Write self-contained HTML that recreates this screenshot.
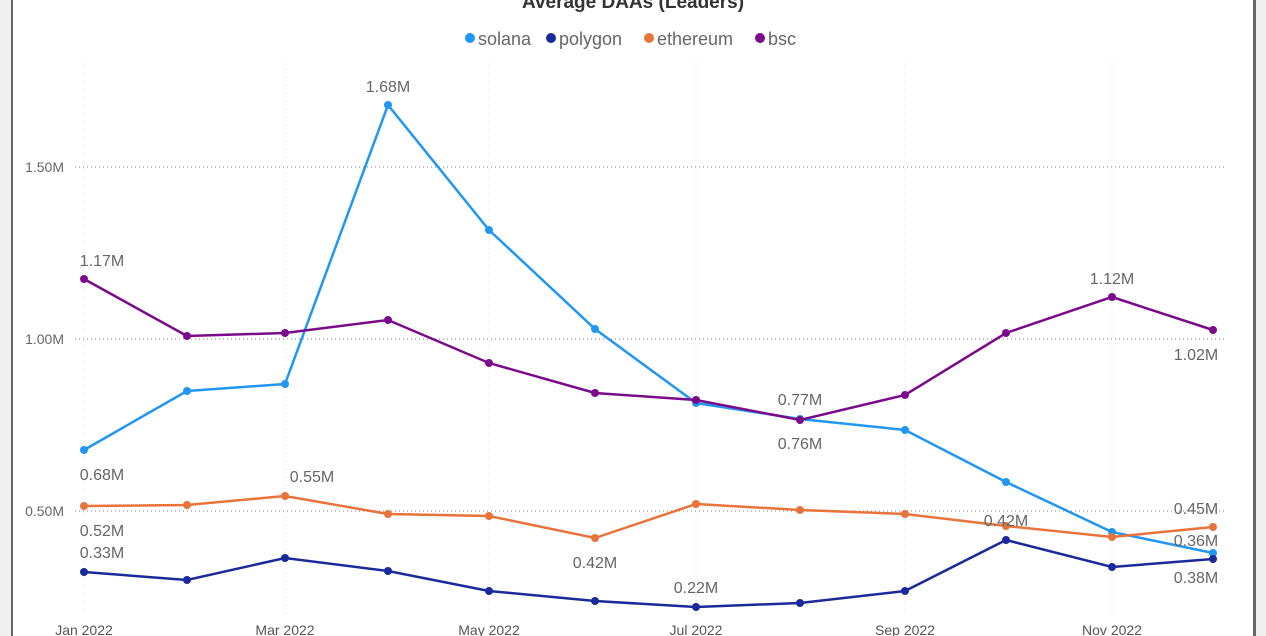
<!DOCTYPE html>
<html><head><meta charset="utf-8"><style>
html,body{margin:0;padding:0;background:#fff;}
body{width:1266px;height:636px;overflow:hidden;position:relative;font-family:"Liberation Sans",sans-serif;}
</style></head><body>
<svg width="1266" height="636" xmlns="http://www.w3.org/2000/svg" style="position:absolute;left:0;top:0">
<rect x="0" y="0" width="11" height="636" fill="#f0f0f0"/>
<rect x="11" y="0" width="2" height="636" fill="#666"/>
<rect x="1253" y="0" width="3" height="636" fill="#666"/>
<rect x="1256" y="0" width="10" height="636" fill="#f0f0f0"/>
<g stroke="#e6e6e6" stroke-dasharray="1,3">
<line x1="84" y1="60" x2="84" y2="615"/><line x1="285" y1="60" x2="285" y2="615"/><line x1="489" y1="60" x2="489" y2="615"/><line x1="696" y1="60" x2="696" y2="615"/><line x1="905" y1="60" x2="905" y2="615"/><line x1="1112" y1="60" x2="1112" y2="615"/>
</g>
<g stroke="#aaa" stroke-dasharray="1,3" stroke-width="1.5">
<line x1="75" y1="167" x2="1225" y2="167"/><line x1="75" y1="339" x2="1225" y2="339"/><line x1="75" y1="511" x2="1225" y2="511"/>
</g>
<g font-size="14" fill="#666" text-anchor="end">
<text x="64" y="172">1.50M</text><text x="64" y="344">1.00M</text><text x="64" y="516">0.50M</text>
</g>
<g font-size="14" fill="#555" text-anchor="middle">
<text x="84" y="635">Jan 2022</text><text x="285" y="635">Mar 2022</text><text x="489" y="635">May 2022</text><text x="696" y="635">Jul 2022</text><text x="905" y="635">Sep 2022</text><text x="1112" y="635">Nov 2022</text>
</g>
<text x="633" y="8" font-size="19" font-weight="bold" fill="#333" text-anchor="middle">Average DAAs (Leaders)</text>
<g font-size="18" fill="#666">
<circle cx="470" cy="38" r="5" fill="#2196f3"/><text x="478" y="45">solana</text>
<circle cx="551" cy="38" r="5" fill="#1a2a9a"/><text x="559" y="45">polygon</text>
<circle cx="649" cy="38" r="5" fill="#e8743b"/><text x="657" y="45">ethereum</text>
<circle cx="760" cy="38" r="5" fill="#7b0a8a"/><text x="768" y="45">bsc</text>
</g>
<g fill="none" stroke-width="2.5">
<polyline stroke="#2196f3" points="84,450 187,391 285,384 388,105 489,230 595,329 696,403 800,419 905,430 1006,482 1112,532 1213,553"/>
<polyline stroke="#1a2a9a" points="84,572 187,580 285,558 388,571 489,591 595,601 696,607 800,603 905,591 1006,540 1112,567 1213,559"/>
<polyline stroke="#e8743b" points="84,506 187,505 285,496 388,514 489,516 595,538 696,504 800,510 905,514 1006,526 1112,537 1213,527"/>
<polyline stroke="#7b0a8a" points="84,279 187,336 285,333 388,320 489,363 595,393 696,400 800,420 905,395 1006,333 1112,297 1213,330"/>
</g>
<g fill="#2196f3"><circle cx="84" cy="450" r="4"/><circle cx="187" cy="391" r="4"/><circle cx="285" cy="384" r="4"/><circle cx="388" cy="105" r="4"/><circle cx="489" cy="230" r="4"/><circle cx="595" cy="329" r="4"/><circle cx="696" cy="403" r="4"/><circle cx="800" cy="419" r="4"/><circle cx="905" cy="430" r="4"/><circle cx="1006" cy="482" r="4"/><circle cx="1112" cy="532" r="4"/><circle cx="1213" cy="553" r="4"/></g>
<g fill="#1a2a9a"><circle cx="84" cy="572" r="4"/><circle cx="187" cy="580" r="4"/><circle cx="285" cy="558" r="4"/><circle cx="388" cy="571" r="4"/><circle cx="489" cy="591" r="4"/><circle cx="595" cy="601" r="4"/><circle cx="696" cy="607" r="4"/><circle cx="800" cy="603" r="4"/><circle cx="905" cy="591" r="4"/><circle cx="1006" cy="540" r="4"/><circle cx="1112" cy="567" r="4"/><circle cx="1213" cy="559" r="4"/></g>
<g fill="#e8743b"><circle cx="84" cy="506" r="4"/><circle cx="187" cy="505" r="4"/><circle cx="285" cy="496" r="4"/><circle cx="388" cy="514" r="4"/><circle cx="489" cy="516" r="4"/><circle cx="595" cy="538" r="4"/><circle cx="696" cy="504" r="4"/><circle cx="800" cy="510" r="4"/><circle cx="905" cy="514" r="4"/><circle cx="1006" cy="526" r="4"/><circle cx="1112" cy="537" r="4"/><circle cx="1213" cy="527" r="4"/></g>
<g fill="#7b0a8a"><circle cx="84" cy="279" r="4"/><circle cx="187" cy="336" r="4"/><circle cx="285" cy="333" r="4"/><circle cx="388" cy="320" r="4"/><circle cx="489" cy="363" r="4"/><circle cx="595" cy="393" r="4"/><circle cx="696" cy="400" r="4"/><circle cx="800" cy="420" r="4"/><circle cx="905" cy="395" r="4"/><circle cx="1006" cy="333" r="4"/><circle cx="1112" cy="297" r="4"/><circle cx="1213" cy="330" r="4"/></g>
<g font-size="16" fill="#666" text-anchor="middle">
<text x="388" y="92">1.68M</text>
<text x="102" y="266">1.17M</text>
<text x="102" y="480">0.68M</text>
<text x="312" y="482">0.55M</text>
<text x="102" y="536">0.52M</text>
<text x="102" y="558">0.33M</text>
<text x="595" y="568">0.42M</text>
<text x="696" y="593">0.22M</text>
<text x="800" y="405">0.77M</text>
<text x="800" y="449">0.76M</text>
<text x="1112" y="284">1.12M</text>
<text x="1196" y="360">1.02M</text>
<text x="1006" y="526">0.42M</text>
<text x="1196" y="514">0.45M</text>
<text x="1196" y="546">0.36M</text>
<text x="1196" y="583">0.38M</text>
</g>
</svg>
</body></html>
